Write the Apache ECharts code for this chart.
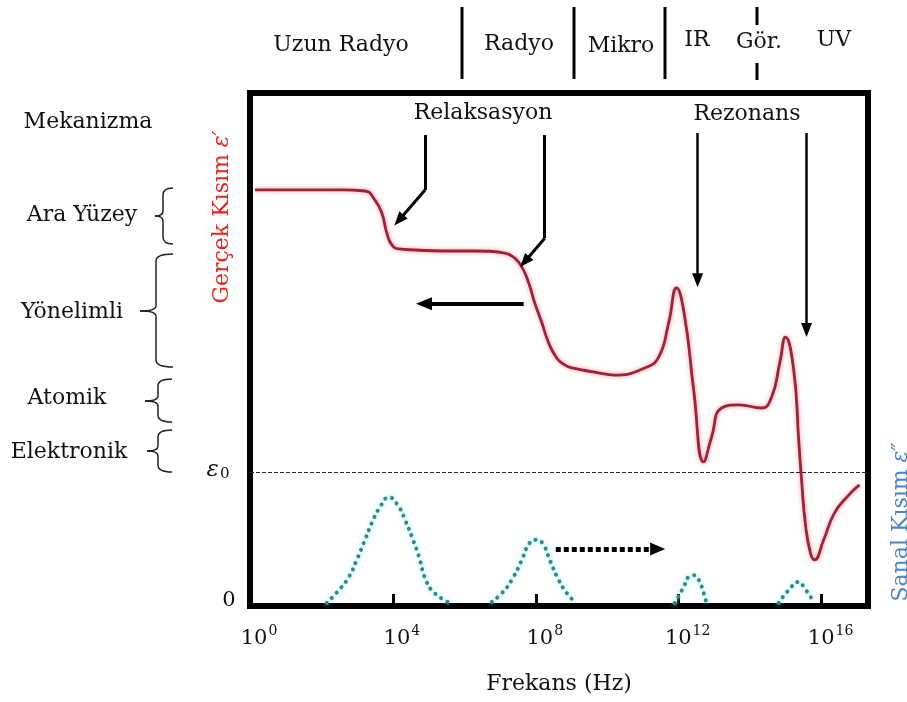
<!DOCTYPE html>
<html>
<head>
<meta charset="utf-8">
<script src="https://cdn.jsdelivr.net/npm/echarts@6/dist/echarts.min.js"></script>
<style>
  html, body { margin: 0; padding: 0; background: #fff; }
  #chart { width: 907px; height: 702px; }
</style>
</head>
<body>
<div id="chart"></div>
<script>
// x: log10(frekans), y: keyfi birim (0 .. 100)
const realLogF = [0.14, 1.45, 2.57, 3.22, 3.50, 3.69, 3.83, 3.97, 4.17, 4.62, 5.37, 6.29, 7.13, 7.41, 7.61,
  7.80, 7.97, 8.17, 8.36, 8.59, 8.81, 9.01, 9.65, 10.21, 11.05, 11.44, 11.72, 11.94, 12.17, 12.42, 12.70,
  12.92, 13.20, 13.68, 14.32, 14.60, 14.83, 14.99, 15.22, 15.36, 15.44, 15.55, 15.69, 15.80, 16.06, 16.36,
  16.76, 17.06];
const realVal = [81.1, 81.1, 81.1, 80.9, 79.1, 76.6, 72.7, 70.4, 69.6, 69.4, 69.2, 69.2, 68.8, 67.8, 66.1,
  63.0, 59.1, 55.2, 51.3, 48.3, 47.0, 46.4, 45.6, 45.0, 46.4, 48.5, 55.2, 62.0, 56.3, 42.1, 28.1,
  32.9, 38.6, 39.2, 38.6, 40.7, 47.4, 52.4, 46.0, 32.4, 24.6, 15.8, 10.3, 9.0, 12.9, 18.1,
  21.6, 23.6];

// sanal kisim tepeleri
const peakInterface = [[2.15, 0.6], [2.49, 3.1], [2.77, 5.7], [2.99, 9.0], [3.22, 12.9], [3.41, 16.2], [3.64, 19.3],
  [3.89, 21.2], [4.17, 19.3], [4.34, 16.8], [4.53, 13.5], [4.73, 9.6], [4.92, 5.1], [5.17, 2.5], [5.59, 0.6]];
const peakDipolar = [[6.77, 0.8], [7.05, 2.5], [7.33, 5.1], [7.61, 9.0], [7.83, 12.3], [8.03, 12.9], [8.22, 11.9],
  [8.39, 9.0], [8.64, 5.1], [8.87, 2.5], [9.09, 0.8]];
const peakAtomic = [[11.89, 0.6], [12.14, 3.7], [12.28, 5.7], [12.42, 6.0], [12.56, 5.1], [12.70, 2.5], [12.78, 0.6]];
const peakElectronic = [[14.80, 0.6], [15.08, 3.1], [15.36, 4.7], [15.52, 3.5], [15.80, 0.6]];

const eps0 = 26.1;
const xTickExp = [0, 4, 8, 12, 16];

const bands = ['Uzun Radyo', 'Radyo', 'Mikro', 'IR', 'Gör.', 'UV'];
const mechanisms = ['Ara Yüzey', 'Yönelimli', 'Atomik', 'Elektronik'];

const FONT = 'DejaVu Serif';

const chart = echarts.init(document.getElementById('chart'));

function txt(x, y, s, size, extra) {
  return Object.assign({
    type: 'text', x: x, y: y, silent: true,
    style: { text: s, font: size + 'px "' + FONT + '"', fill: '#111', align: 'center', verticalAlign: 'middle' }
  }, extra || {});
}
function vline(x, y1, y2, w) {
  return { type: 'line', silent: true, shape: { x1: x, y1: y1, x2: x, y2: y2 }, style: { stroke: '#000', lineWidth: w || 3 } };
}
const braceStyle = { stroke: '#222', lineWidth: 1.5, fill: null };
function curve(x1, y1, cx, cy, x2, y2) {
  return { type: 'bezierCurve', silent: true, shape: { x1: x1, y1: y1, cpx1: cx, cpy1: cy, x2: x2, y2: y2 }, style: braceStyle };
}
function straight(x1, y1, x2, y2) {
  return { type: 'line', silent: true, shape: { x1: x1, y1: y1, x2: x2, y2: y2 }, style: braceStyle };
}
function brace(xv, xr, top, bottom, mid, tip) {
  return {
    type: 'group', silent: true,
    children: [
      curve(xr, top, xv, top, xv, top + 7),
      straight(xv, top + 7, xv, mid - 5),
      curve(xv, mid - 5, xv, mid, tip, mid),
      curve(tip, mid, xv, mid, xv, mid + 5),
      straight(xv, mid + 5, xv, bottom - 7),
      curve(xv, bottom - 7, xv, bottom, xr, bottom)
    ]
  };
}

// oklar (veri koordinatinda)
function seg(a, b, w, dash) {
  return [{ coord: a, symbol: 'none', lineStyle: { color: '#000', width: w, type: dash || 'solid' } }, { coord: b, symbol: 'none' }];
}
function arrow(a, b, w, dash, size) {
  return [{ coord: a, symbol: 'none', lineStyle: { color: '#000', width: w, type: dash || 'solid' } },
    { coord: b, symbol: 'triangle', symbolSize: size || [11, 14] }];
}

const bandPos = [[341, 45], [519, 44], [621, 46], [697, 40], [759, 42], [834, 40]];
const mechPos = [[82, 215], [72, 312], [67, 398], [69, 452]];

chart.setOption({
  animation: false,
  grid: { left: 250, right: 39, top: 93, bottom: 96, show: true, borderColor: '#000', borderWidth: 6 },
  xAxis: {
    type: 'value', min: 0, max: 17.3, interval: 4,
    name: 'Frekans (Hz)', nameLocation: 'middle', nameGap: 67,
    nameTextStyle: { fontFamily: FONT, fontSize: 22, color: '#111' },
    axisLine: { show: false },
    splitLine: { show: false },
    axisTick: { inside: true, length: 12, lineStyle: { color: '#000', width: 3 } },
    axisLabel: {
      margin: 18, showMaxLabel: false, padding: [0, 0, 0, 18],
      formatter: v => xTickExp.indexOf(v) >= 0 ? '{b|10}{s|' + v + '}' : '',
      rich: {
        b: { fontFamily: FONT, fontSize: 21, color: '#111', verticalAlign: 'bottom' },
        s: { fontFamily: FONT, fontSize: 14, color: '#111', verticalAlign: 'bottom', padding: [0, 0, 11, 1] }
      }
    }
  },
  yAxis: { type: 'value', min: 0, max: 100, show: false, splitLine: { show: false } },
  series: [
    {
      name: 'Gerçek', type: 'line', smooth: 0.5, showSymbol: false, symbol: 'none',
      data: realLogF.map((x, i) => [x, realVal[i]]),
      lineStyle: { color: '#9e2336', width: 2.8, shadowColor: 'rgba(240,60,70,0.55)', shadowBlur: 4 },
      z: 3,
      markLine: {
        silent: true, symbol: ['none', 'none'], label: { show: false },
        lineStyle: { color: '#222', width: 1, type: [4, 2] },
        data: [{ yAxis: eps0 }]
      }
    },
    {
      name: 'Sanal', type: 'line', smooth: 0.5, showSymbol: false, symbol: 'none',
      connectNulls: false,
      data: [].concat(peakInterface, [[null, '-']], peakDipolar, [[null, '-']], peakAtomic, [[null, '-']], peakElectronic),
      lineStyle: { color: '#3b8589', width: 4, type: [0.1, 7], cap: 'round', shadowColor: 'rgba(110,245,250,0.9)', shadowBlur: 4 },
      z: 2
    },
    {
      name: 'oklar', type: 'line', data: [], silent: true,
      markLine: {
        silent: true, label: { show: false }, symbol: ['none', 'none'],
        data: [
          seg([4.90, 91.8], [4.90, 81.1], 3),
          arrow([4.90, 81.1], [4.17, 75.2], 3),
          seg([8.25, 91.8], [8.25, 71.7], 3),
          arrow([8.25, 71.7], [7.69, 67.1], 3),
          arrow([12.53, 92.2], [12.53, 63.5], 2.5),
          arrow([15.58, 92.2], [15.58, 53.8], 2.5),
          arrow([7.66, 58.9], [4.87, 58.9], 4, 'solid', [13, 16]),
          arrow([8.56, 11.1], [11.41, 11.1], 5, [5, 3], [13, 15])
        ]
      }
    }
  ],
  graphic: [].concat(
    bands.map((b, i) => txt(bandPos[i][0], bandPos[i][1], b, 22)),
    [vline(462, 7, 79), vline(574, 7, 79), vline(665, 7, 79), vline(757, 7, 25), vline(757, 63, 80)],
    [txt(88, 122, 'Mekanizma', 22)],
    mechanisms.map((m, i) => txt(mechPos[i][0], mechPos[i][1], m, 22)),
    [
      brace(163, 173, 188, 244, 216, 155),
      brace(156, 173, 254, 367, 311, 140),
      brace(158, 172, 379, 422, 401, 145),
      brace(158, 172, 430, 472, 451, 147)
    ],
    [
      txt(483, 113, 'Relaksasyon', 22),
      txt(747, 114, 'Rezonans', 22),
      txt(229, 601, '0', 21),
      {
        type: 'text', x: 218, y: 470, silent: true,
        style: {
          text: '{e|ε}{z|0}', align: 'center', verticalAlign: 'middle',
          rich: {
            e: { font: 'italic 23px "' + FONT + '"', fill: '#111', verticalAlign: 'bottom' },
            z: { font: '15px "' + FONT + '"', fill: '#111', verticalAlign: 'bottom', padding: [0, 0, 0, 1] }
          }
        }
      },
      {
        type: 'text', x: 222, y: 217, rotation: Math.PI / 2, silent: true,
        style: {
          text: '{n|Gerçek Kısım }{e|ε′}', align: 'center', verticalAlign: 'middle',
          rich: {
            n: { font: '22px "' + FONT + '"', fill: '#e3261f' },
            e: { font: 'italic 22px "' + FONT + '"', fill: '#e3261f' }
          }
        }
      },
      {
        type: 'text', x: 901, y: 522, rotation: Math.PI / 2, silent: true,
        style: {
          text: '{n|Sanal Kısım }{e|ε″}', align: 'center', verticalAlign: 'middle',
          rich: {
            n: { font: '22px "' + FONT + '"', fill: '#4a86c4' },
            e: { font: 'italic 22px "' + FONT + '"', fill: '#4a86c4' }
          }
        }
      }
    ]
  )
});
</script>
</body>
</html>
